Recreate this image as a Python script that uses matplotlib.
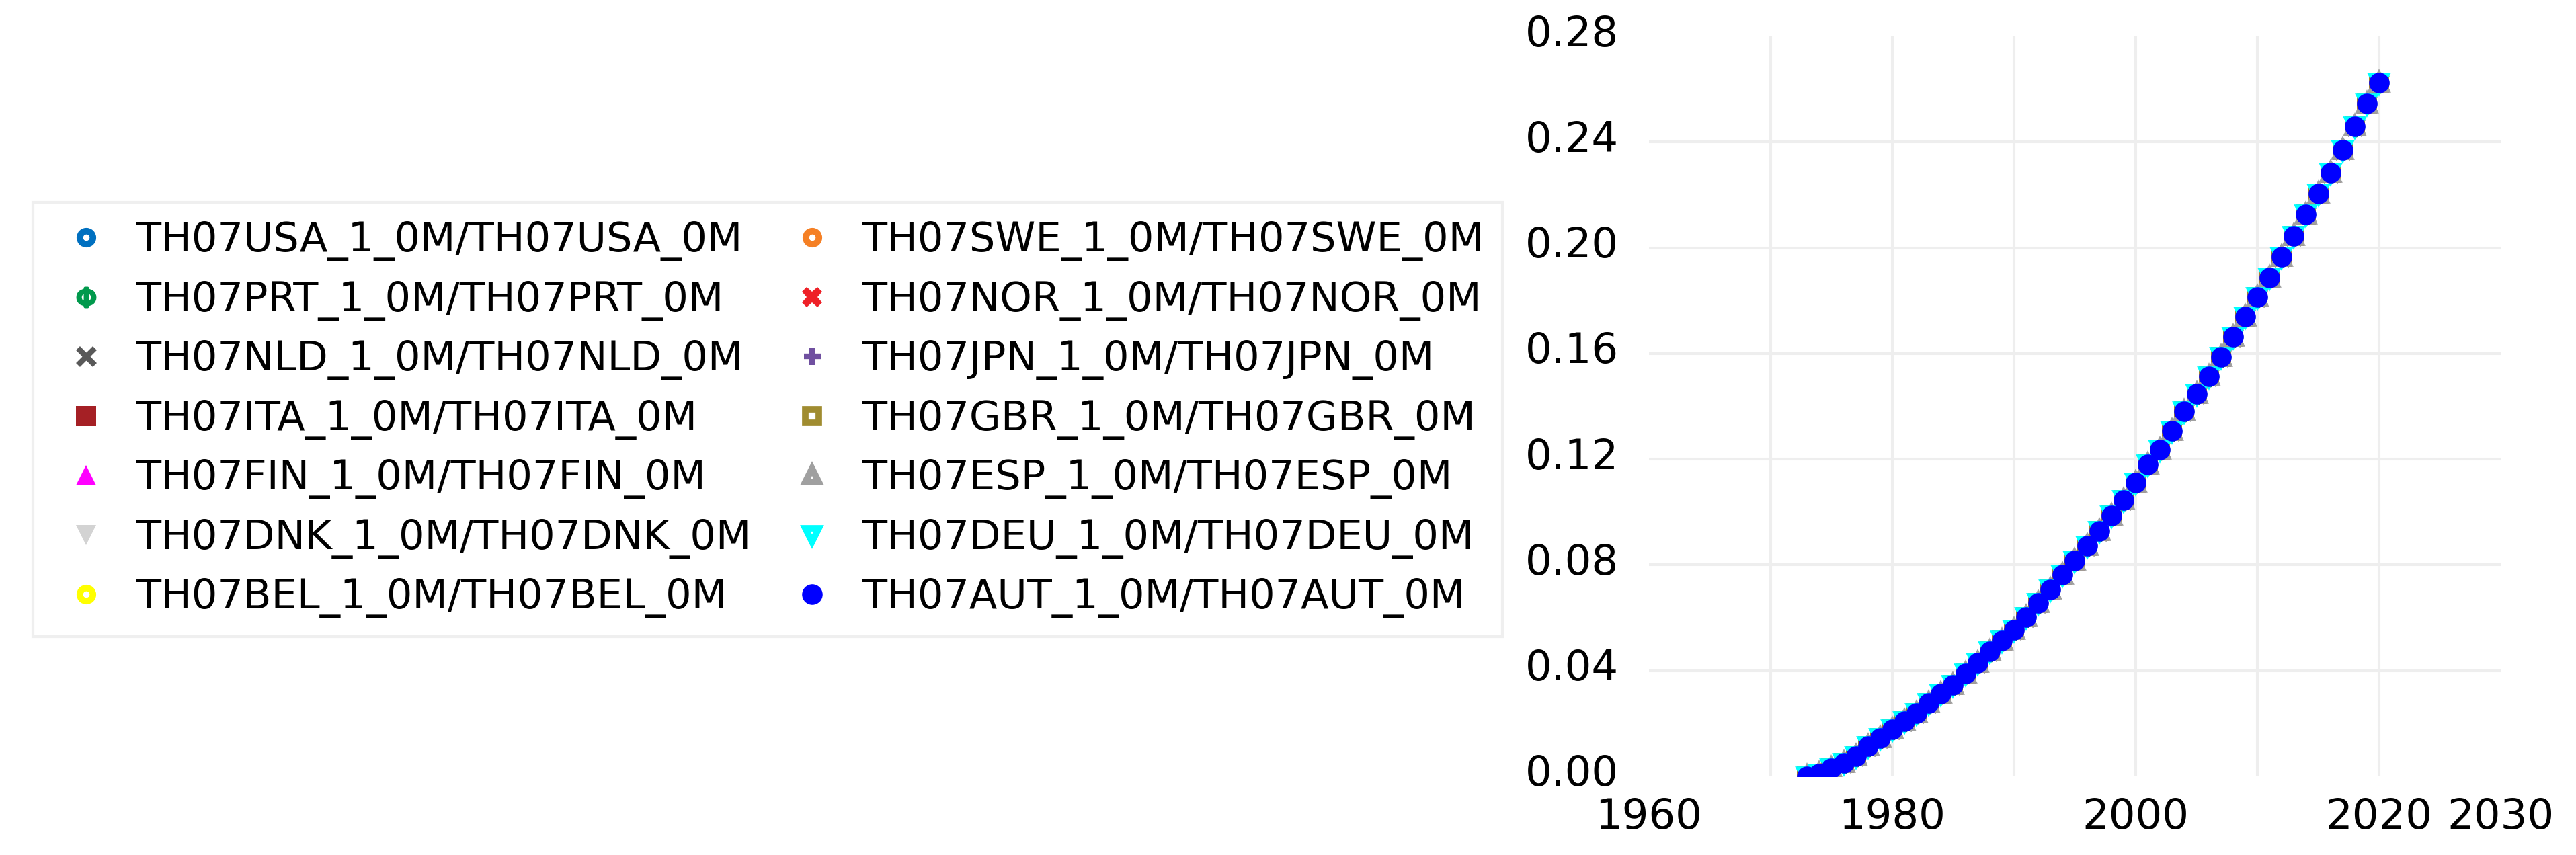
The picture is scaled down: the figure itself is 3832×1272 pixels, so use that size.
import matplotlib
matplotlib.use("Agg")
import matplotlib.pyplot as plt
import matplotlib.transforms as mtransforms
from matplotlib.ticker import FormatStrFormatter

plt.rcParams['font.family'] = ['DejaVu Sans']

# data (all 14 ratio series sit on top of each other in the source chart)
years = [1973, 1974, 1975, 1976, 1977, 1978, 1979, 1980, 1981, 1982,
         1983, 1984, 1985, 1986, 1987, 1988, 1989, 1990, 1991, 1992,
         1993, 1994, 1995, 1996, 1997, 1998, 1999, 2000, 2001, 2002,
         2003, 2004, 2005, 2006, 2007, 2008, 2009, 2010, 2011, 2012,
         2013, 2014, 2015, 2016, 2017, 2018, 2019, 2020]
ratio = [0.0000, 0.0010, 0.0030, 0.0050, 0.0077, 0.0114, 0.0146, 0.0177, 0.0208, 0.0239,
         0.0277, 0.0312, 0.0347, 0.0389, 0.0430, 0.0472, 0.0514, 0.0555, 0.0603, 0.0655,
         0.0707, 0.0763, 0.0817, 0.0873, 0.0929, 0.0988, 0.1046, 0.1112, 0.1179, 0.1237,
         0.1306, 0.1380, 0.1447, 0.1514, 0.1588, 0.1663, 0.1740, 0.1813, 0.1886, 0.1965,
         0.2046, 0.2127, 0.2204, 0.2285, 0.2370, 0.2459, 0.2545, 0.2625]

countries = ["USA", "PRT", "NLD", "ITA", "FIN", "DNK", "BEL",
             "SWE", "NOR", "JPN", "GBR", "ESP", "DEU", "AUT"]
colors = ["#0070C0", "#00994C", "#595959", "#A52025", "#FF00FF", "#D3D3D3", "#FFFF00",
          "#F58025", "#EE2027", "#7050A0", "#A08C30", "#A0A0A0", "#00FFFF", "#0000FF"]
markers = ["o", r"$\Phi$", "x", "s", "^", "v", "o",
           "o", "X", "+", "s", "^", "v", "o"]
hollow = [True, False, False, False, False, False, True,
          True, False, False, True, True, True, False]

x_major = [1960, 1980, 2000, 2020, 2030]
x_grid = [1970, 1980, 1990, 2000, 2010, 2020]
y_major = [0.00, 0.04, 0.08, 0.12, 0.16, 0.20, 0.24, 0.28]
y_grid = [0.04, 0.08, 0.12, 0.16, 0.20, 0.24]

fig = plt.figure(figsize=(38.32, 12.72), dpi=100)
ax = fig.add_axes([0.6401, 0.0920, 0.3307, 0.8655])

for c, col, m, h in zip(countries, colors, markers, hollow):
    lab = "TH07" + c + "_1_0M/TH07" + c + "_0M"
    if h:
        ax.plot(years, ratio, ls='none', marker=m, ms=14, mew=7,
                mec=col, mfc='white', label=lab)
    elif m in ("x", "+"):
        ax.plot(years, ratio, ls='none', marker=m, ms=18, mew=6,
                mec=col, label=lab)
    elif m.startswith("$"):
        ax.plot(years, ratio, ls='none', marker=m, ms=20, mew=3,
                color=col, mec=col, label=lab)
    else:
        ax.plot(years, ratio, ls='none', marker=m, ms=22, mew=0,
                color=col, label=lab)

ax.set_xlim(1960, 2030)
ax.set_ylim(0, 0.28)
ax.set_xticks(x_major)
ax.set_xticks(x_grid, minor=True)
ax.set_yticks(y_major)
ax.set_yticks(y_grid, minor=True)
ax.xaxis.remove_overlapping_locs = False
ax.yaxis.remove_overlapping_locs = False
ax.yaxis.set_major_formatter(FormatStrFormatter('%.2f'))
ax.grid(False)
ax.grid(True, which='minor', color='#EEEEEE', lw=2.9)
ax.set_axisbelow(True)
ax.tick_params(which='both', length=0)
ax.tick_params(axis='x', labelsize=45, pad=22)
ax.tick_params(axis='y', labelsize=45, pad=32)
for s in ax.spines.values():
    s.set_visible(False)

shift = mtransforms.ScaledTranslation(0, 9 / 100, fig.dpi_scale_trans)
for t in ax.get_yticklabels():
    t.set_transform(t.get_transform() + shift)

leg = fig.legend(*ax.get_legend_handles_labels(), ncol=2, loc='upper left',
                 bbox_to_anchor=(49 / 3832, 1 - 301 / 1272), fontsize=43.7,
                 frameon=True, fancybox=False, borderpad=0.45, labelspacing=0.47,
                 handlelength=1.7, handletextpad=0.38, columnspacing=0.63,
                 borderaxespad=0)
leg.get_frame().set_edgecolor('#EBEBEB')
leg.get_frame().set_linewidth(3)

fig.savefig("out.png", dpi=100)
